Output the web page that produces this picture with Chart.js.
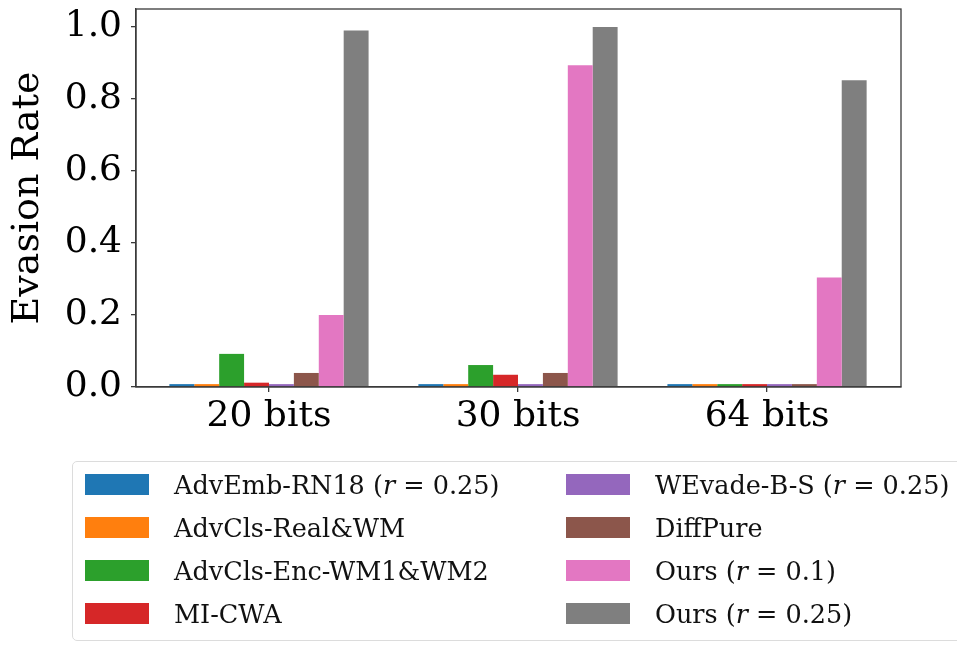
<!DOCTYPE html>
<html>
<head>
<meta charset="utf-8">
<script src="https://cdn.jsdelivr.net/npm/chart.js@4.4.1/dist/chart.umd.min.js"></script>
<style>
  html, body { margin: 0; padding: 0; background: #fff; overflow: hidden; }
  #wrap { position: relative; width: 957px; height: 645px; }
  #chart { position: absolute; left: 0; top: 0; }
  #legend {
    position: absolute; left: 72px; top: 461px; width: 960px; height: 180px;
    border: 1.5px solid #dcdcdc; border-radius: 5px; box-sizing: border-box;
    font-family: "DejaVu Serif", serif; font-size: 25.5px; color: #111;
  }
  .item { position: absolute; height: 43px; display: flex; align-items: center; white-space: nowrap; }
  .sw { width: 64px; height: 21px; margin-right: 25px; }
</style>
</head>
<body>
<div id="wrap">
  <canvas id="chart" width="957" height="645"></canvas>
  <div id="legend"></div>
</div>
<script>
// Bit-length groups on the x axis
const categories = ['20 bits', '30 bits', '64 bits'];

// Evasion rate per method, one value per bit length
const advEmbRN18   = [0.008, 0.008, 0.008];
const advClsRealWM = [0.008, 0.008, 0.008];
const advClsEncWM  = [0.092, 0.061, 0.008];
const miCWA        = [0.012, 0.034, 0.008];
const wevadeBS     = [0.008, 0.008, 0.008];
const diffPure     = [0.039, 0.039, 0.008];
const oursR010     = [0.200, 0.894, 0.304];
const oursR025     = [0.990, 1.000, 0.852];

const yTicks = [0, 0.2, 0.4, 0.6, 0.8, 1.0];

// Legend text (HTML so the math variable can be italic)
const seriesLabels = [
  'AdvEmb-RN18 (<i>r</i> = 0.25)',
  'AdvCls-Real&amp;WM',
  'AdvCls-Enc-WM1&amp;WM2',
  'MI-CWA',
  'WEvade-B-S (<i>r</i> = 0.25)',
  'DiffPure',
  'Ours (<i>r</i> = 0.1)',
  'Ours (<i>r</i> = 0.25)'
];
const seriesValues = [advEmbRN18, advClsRealWM, advClsEncWM, miCWA, wevadeBS, diffPure, oursR010, oursR025];
const seriesColors = ['#1f77b4', '#ff7f0e', '#2ca02c', '#d62728', '#9467bd', '#8c564b', '#e377c2', '#7f7f7f'];

const datasets = seriesValues.map((vals, s) => ({
  label: seriesLabels[s].replace(/<[^>]+>/g, '').replace('&amp;', '&'),
  data: vals.map((v, i) => ({ x: i, y: v })),
  backgroundColor: seriesColors[s],
  borderWidth: 0,
  categoryPercentage: 0.8,
  barPercentage: 1.0
}));

// Full box around the plotting area
const framePlugin = {
  id: 'frame',
  afterDraw(chart) {
    const { ctx, chartArea: a } = chart;
    ctx.save();
    ctx.strokeStyle = '#3a3a3a';
    ctx.lineWidth = 1.3;
    ctx.strokeRect(a.left, a.top, a.right - a.left, a.bottom - a.top);
    ctx.restore();
  }
};

const tickFont = { family: 'DejaVu Serif', size: 36 };

new Chart(document.getElementById('chart'), {
  type: 'bar',
  data: { datasets },
  options: {
    responsive: false,
    animation: false,
    layout: { padding: { left: 0, top: 9, right: 56, bottom: 198 } },
    plugins: { legend: { display: false }, tooltip: { enabled: false } },
    scales: {
      x: {
        type: 'linear',
        offset: false,
        bounds: 'data',
        min: -0.534,
        max: 2.538,
        afterFit(scale) {
          scale.height = 60;
          scale.paddingLeft = 0;
          scale.paddingRight = 0;
        },
        afterBuildTicks(scale) { scale.ticks = categories.map((_, i) => ({ value: i })); },
        ticks: {
          autoSkip: false,
          maxRotation: 0,
          padding: 3,
          color: '#000',
          font: tickFont,
          callback: (v) => categories[Math.round(v)] ?? ''
        },
        grid: { display: true, offset: false, drawOnChartArea: false, drawTicks: true, tickLength: 5, color: '#3a3a3a', lineWidth: 1.3 },
        border: { display: true, color: '#3a3a3a', width: 1.3 }
      },
      y: {
        min: 0,
        max: 1.05,
        afterFit(scale) {
          scale.width = 136;
          scale.paddingTop = 0;
          scale.paddingBottom = 0;
        },
        afterBuildTicks(scale) { scale.ticks = yTicks.map(v => ({ value: v })); },
        ticks: {
          padding: 9,
          color: '#000',
          font: tickFont,
          callback: (v) => Number(v).toFixed(1)
        },
        title: {
          display: true,
          text: 'Evasion Rate',
          color: '#000',
          font: { family: 'DejaVu Serif', size: 38 },
          padding: { top: 5, bottom: 0 }
        },
        grid: { display: true, drawOnChartArea: false, drawTicks: true, tickLength: 5, color: '#3a3a3a', lineWidth: 1.3 },
        border: { display: true, color: '#3a3a3a', width: 1.3 }
      }
    }
  },
  plugins: [framePlugin]
});

// Two-column legend: first four series on the left, last four on the right
const legend = document.getElementById('legend');
seriesLabels.forEach((lab, s) => {
  const col = Math.floor(s / 4), row = s % 4;
  const item = document.createElement('div');
  item.className = 'item';
  item.style.left = (col === 0 ? 12 : 493) + 'px';
  item.style.top = (1 + row * 43) + 'px';
  item.innerHTML = '<span class="sw" style="background:' + seriesColors[s] + '"></span><span>' + lab + '</span>';
  legend.appendChild(item);
});
</script>
</body>
</html>
